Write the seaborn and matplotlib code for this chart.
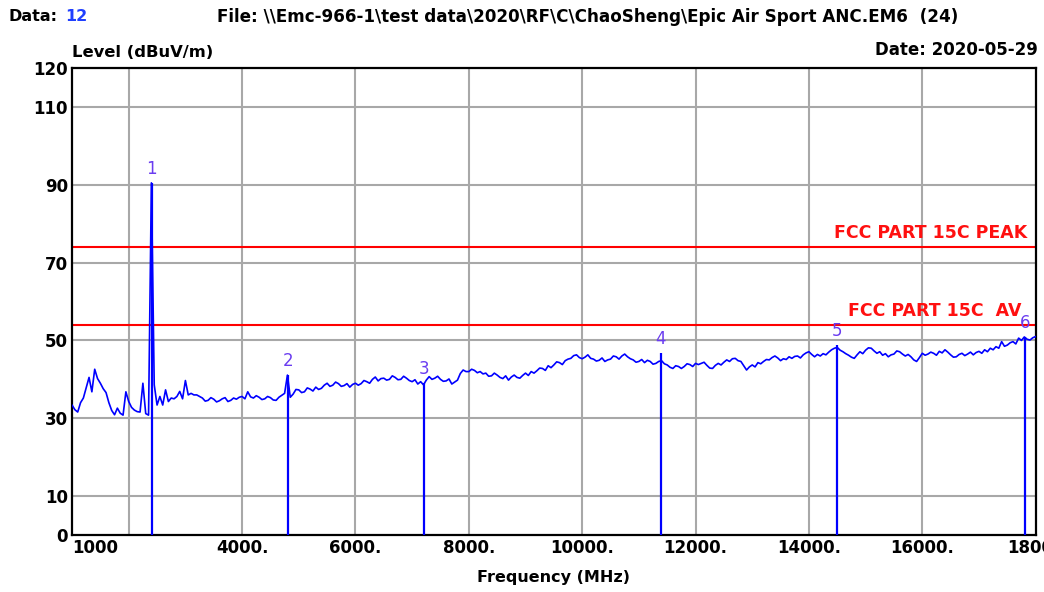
import matplotlib
matplotlib.use("Agg")
import matplotlib.pyplot as plt
import seaborn as sns
import pandas as pd

# sweep trace: 50 MHz points, one row = 500 MHz
freq_mhz = [
    1000, 1050, 1100, 1150, 1200, 1250, 1300, 1350, 1400, 1450,
    1500, 1550, 1600, 1650, 1700, 1750, 1800, 1850, 1900, 1950,
    2000, 2050, 2100, 2150, 2200, 2250, 2300, 2350, 2400, 2450,
    2500, 2550, 2600, 2650, 2700, 2750, 2800, 2850, 2900, 2950,
    3000, 3050, 3100, 3150, 3200, 3250, 3300, 3350, 3400, 3450,
    3500, 3550, 3600, 3650, 3700, 3750, 3800, 3850, 3900, 3950,
    4000, 4050, 4100, 4150, 4200, 4250, 4300, 4350, 4400, 4450,
    4500, 4550, 4600, 4650, 4700, 4750, 4800, 4850, 4900, 4950,
    5000, 5050, 5100, 5150, 5200, 5250, 5300, 5350, 5400, 5450,
    5500, 5550, 5600, 5650, 5700, 5750, 5800, 5850, 5900, 5950,
    6000, 6050, 6100, 6150, 6200, 6250, 6300, 6350, 6400, 6450,
    6500, 6550, 6600, 6650, 6700, 6750, 6800, 6850, 6900, 6950,
    7000, 7050, 7100, 7150, 7200, 7250, 7300, 7350, 7400, 7450,
    7500, 7550, 7600, 7650, 7700, 7750, 7800, 7850, 7900, 7950,
    8000, 8050, 8100, 8150, 8200, 8250, 8300, 8350, 8400, 8450,
    8500, 8550, 8600, 8650, 8700, 8750, 8800, 8850, 8900, 8950,
    9000, 9050, 9100, 9150, 9200, 9250, 9300, 9350, 9400, 9450,
    9500, 9550, 9600, 9650, 9700, 9750, 9800, 9850, 9900, 9950,
    10000, 10050, 10100, 10150, 10200, 10250, 10300, 10350, 10400, 10450,
    10500, 10550, 10600, 10650, 10700, 10750, 10800, 10850, 10900, 10950,
    11000, 11050, 11100, 11150, 11200, 11250, 11300, 11350, 11400, 11450,
    11500, 11550, 11600, 11650, 11700, 11750, 11800, 11850, 11900, 11950,
    12000, 12050, 12100, 12150, 12200, 12250, 12300, 12350, 12400, 12450,
    12500, 12550, 12600, 12650, 12700, 12750, 12800, 12850, 12900, 12950,
    13000, 13050, 13100, 13150, 13200, 13250, 13300, 13350, 13400, 13450,
    13500, 13550, 13600, 13650, 13700, 13750, 13800, 13850, 13900, 13950,
    14000, 14050, 14100, 14150, 14200, 14250, 14300, 14350, 14400, 14450,
    14500, 14550, 14600, 14650, 14700, 14750, 14800, 14850, 14900, 14950,
    15000, 15050, 15100, 15150, 15200, 15250, 15300, 15350, 15400, 15450,
    15500, 15550, 15600, 15650, 15700, 15750, 15800, 15850, 15900, 15950,
    16000, 16050, 16100, 16150, 16200, 16250, 16300, 16350, 16400, 16450,
    16500, 16550, 16600, 16650, 16700, 16750, 16800, 16850, 16900, 16950,
    17000, 17050, 17100, 17150, 17200, 17250, 17300, 17350, 17400, 17450,
    17500, 17550, 17600, 17650, 17700, 17750, 17800, 17850, 17900, 17950,
    18000]
level_dbuv = [
    33.4, 32.2, 31.6, 34.0, 35.2, 37.8, 40.5, 36.8, 42.6, 40.2,
    39.0, 37.6, 36.6, 34.0, 32.0, 30.9, 32.6, 31.3, 30.8, 36.8,
    34.3, 32.8, 32.1, 31.7, 31.6, 39.0, 31.2, 30.8, 90.5, 38.6,
    33.4, 35.6, 33.4, 37.3, 34.3, 35.2, 35.0, 35.6, 36.9, 35.0,
    39.7, 36.0, 36.4, 36.0, 36.0, 35.6, 35.2, 34.4, 34.6, 35.3,
    34.9, 34.2, 34.5, 35.0, 35.3, 34.3, 34.6, 35.2, 34.9, 35.4,
    35.6, 35.0, 36.8, 35.5, 35.2, 35.8, 35.4, 34.8, 35.0, 35.6,
    35.3, 34.7, 34.6, 35.4, 35.9, 36.4, 41.1, 35.4, 36.2, 37.4,
    37.3, 36.6, 36.8, 37.8, 37.5, 37.0, 38.0, 37.4, 37.7, 38.5,
    39.0, 38.2, 38.5, 39.3, 38.9, 38.2, 38.4, 38.9, 38.0, 38.7,
    39.0, 38.5, 38.9, 39.7, 39.4, 39.0, 40.0, 40.6, 39.6, 40.2,
    40.3, 39.8, 40.0, 40.9, 40.5, 39.9, 40.0, 40.8, 40.3, 39.7,
    39.4, 39.9, 38.8, 39.4, 38.6, 39.8, 40.7, 40.0, 40.3, 40.8,
    40.0, 39.5, 39.6, 40.1, 38.8, 39.3, 39.8, 41.5, 42.4, 42.0,
    42.0, 42.6, 42.3, 41.7, 42.0, 41.4, 41.6, 40.8, 40.9, 41.6,
    41.1, 40.5, 40.2, 40.9, 39.8, 40.6, 41.1, 40.5, 40.3, 41.0,
    41.6, 41.0, 42.0, 41.6, 42.2, 42.9, 42.8, 42.3, 43.5, 43.0,
    43.7, 44.5, 44.3, 43.8, 44.8, 45.2, 45.4, 46.1, 46.3, 45.6,
    45.3, 45.7, 46.3, 45.4, 45.2, 44.7, 44.9, 45.5, 44.6, 45.0,
    45.2, 46.0, 45.8, 45.2, 46.0, 46.5, 45.8, 45.3, 45.0, 44.4,
    44.6, 45.1, 44.3, 44.9, 44.6, 43.9, 44.1, 44.6, 44.8, 44.0,
    43.7, 43.1, 42.8, 43.5, 43.3, 42.8, 43.3, 44.0, 43.8, 43.3,
    44.1, 43.8, 44.1, 44.4, 43.6, 42.9, 42.8, 43.6, 44.1, 43.7,
    44.4, 45.0, 44.6, 45.3, 45.4, 44.8, 44.6, 43.5, 42.4, 43.2,
    43.7, 43.2, 44.3, 44.0, 44.6, 45.1, 45.0, 45.6, 46.0, 45.5,
    44.8, 45.3, 45.1, 45.8, 45.4, 45.9, 46.0, 45.5, 46.3, 46.8,
    47.1, 46.4, 45.8, 46.4, 46.0, 46.6, 46.3, 47.0, 47.6, 48.0,
    48.2, 47.5, 47.1, 46.6, 46.2, 45.7, 45.4, 46.3, 47.1, 46.6,
    47.5, 48.1, 48.0, 47.3, 46.7, 47.1, 46.2, 46.6, 45.8, 46.3,
    46.5, 47.3, 47.1, 46.5, 46.0, 46.4, 45.8, 45.0, 44.6, 45.6,
    46.7, 46.2, 46.5, 47.0, 46.7, 46.2, 47.2, 46.8, 47.6, 47.0,
    46.3, 45.7, 45.8, 46.4, 46.7, 46.1, 46.5, 47.0, 46.3, 46.9,
    47.2, 46.7, 47.6, 47.1, 48.0, 47.6, 48.4, 48.0, 49.7, 48.5,
    48.8, 49.4, 49.7, 49.1, 50.6, 50.0, 50.9, 50.3, 50.1, 50.7,
    51.0]

# markers
marker_freq = [2402, 4804, 7206, 11390, 14490, 17810]
marker_level = [90.5, 41.1, 39.0, 46.7, 48.8, 50.9]
marker_text = ["1", "2", "3", "4", "5", "6"]

# limit lines
limit_level = [74, 54]
limit_text = ["FCC PART 15C PEAK", "FCC PART 15C  AV"]

x_ticks = [1000, 4000, 6000, 8000, 10000, 12000, 14000, 16000, 18000]
x_ticklabels = ["1000", "4000.", "6000.", "8000.", "10000.", "12000.",
                "14000.", "16000.", "18000"]
x_grid = [2000, 4000, 6000, 8000, 10000, 12000, 14000, 16000]
y_ticks = [0, 10, 30, 50, 70, 90, 110, 120]

sns.set_style("white")
plt.rcParams['font.family'] = ['DejaVu Sans']
plt.rcParams['text.color'] = 'black'
plt.rcParams['xtick.color'] = 'black'
plt.rcParams['ytick.color'] = 'black'
plt.rcParams['axes.labelcolor'] = 'black'

fig = plt.figure(figsize=(10.44, 5.92), dpi=100)
ax = fig.add_axes([0.069, 0.0963, 0.923, 0.7887])

df = pd.DataFrame({"freq": freq_mhz, "level": level_dbuv})

for g in x_grid:
    ax.axvline(g, color="#a8a8a8", lw=1.5, zorder=0)
for g in y_ticks[1:-1]:
    ax.axhline(g, color="#a8a8a8", lw=1.5, zorder=0)

for lv in limit_level:
    ax.axhline(lv, color="#ff0000", lw=1.5, zorder=2)
ax.text(17850, limit_level[0] + 1.2, limit_text[0], color="#ff1010",
        fontsize=12.5, fontweight="bold", ha="right", va="bottom")
ax.text(17750, limit_level[1] + 1.2, limit_text[1], color="#ff1010",
        fontsize=12.5, fontweight="bold", ha="right", va="bottom")

sns.lineplot(data=df, x="freq", y="level", color="#0000ff", lw=1.2, ax=ax,
             zorder=3)

ax.vlines(marker_freq, 0, marker_level, color="#0000ff", lw=1.6, zorder=4)
for f, lv, t in zip(marker_freq, marker_level, marker_text):
    ax.text(f, lv + 1.3, t, color="#6a3cf0", fontsize=12, ha="center",
            va="bottom", zorder=5)

ax.set_xlim(1000, 18000)
ax.set_ylim(0, 120)
ax.set_xticks(x_ticks)
ax.set_xticklabels(x_ticklabels, fontsize=12, fontweight="bold")
ax.get_xticklabels()[0].set_ha("left")
ax.set_yticks(y_ticks)
ax.set_yticklabels([str(v) for v in y_ticks], fontsize=12, fontweight="bold")
ax.tick_params(length=0, pad=3)
ax.set_xlabel("Frequency (MHz)", fontsize=11.5, fontweight="bold", labelpad=9)
ax.set_ylabel(None)
for s in ax.spines.values():
    s.set_color("black")
    s.set_linewidth(1.6)

fig.text(0.008, 0.972, "Data:", fontsize=11.5, fontweight="bold", va="center")
fig.text(0.062, 0.972, "12", fontsize=11.5, fontweight="bold", va="center",
         color="#1f3fff")
fig.text(0.208, 0.972,
         r"File: \\Emc-966-1\test data\2020\RF\C\ChaoSheng\Epic Air Sport ANC.EM6  (24)",
         fontsize=12.1, fontweight="bold", va="center")
fig.text(0.069, 0.912, "Level (dBuV/m)", fontsize=11.8, fontweight="bold",
         va="center")
fig.text(0.994, 0.915, "Date: 2020-05-29", fontsize=12, fontweight="bold",
         va="center", ha="right")

plt.savefig("out.png", dpi=100)
